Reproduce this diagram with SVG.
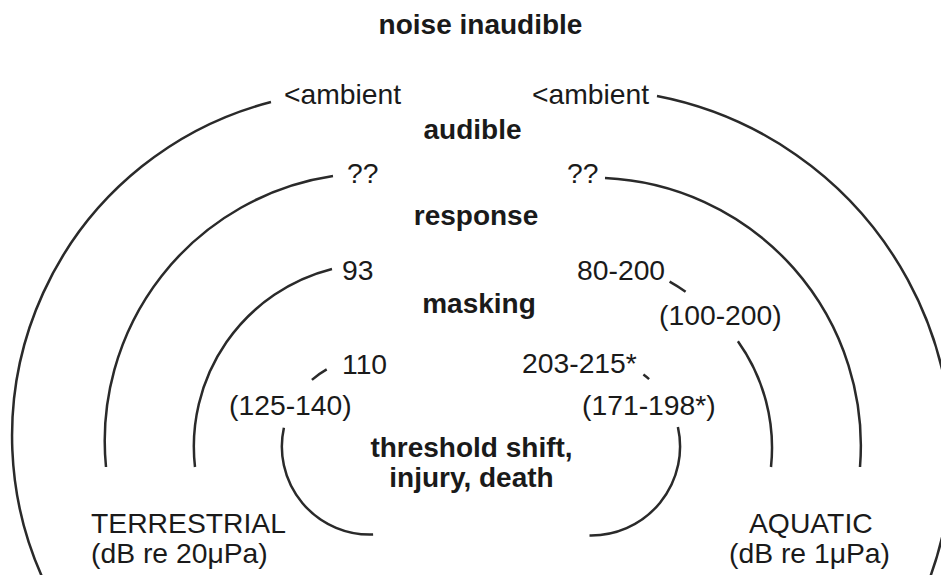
<svg xmlns="http://www.w3.org/2000/svg" width="941" height="575" viewBox="0 0 941 575">
  <style>
    .arc { fill: none; stroke: #2a2a2a; stroke-width: 2.5; stroke-linecap: butt; }
    .lbl { font-family: "Liberation Sans", Arial, sans-serif; font-size: 28.3px; fill: #1a1a1a; }
    .zone { font-family: "Liberation Sans", Arial, sans-serif; font-size: 28px; font-weight: bold; fill: #1a1a1a; text-anchor: middle; }
  </style>
  <rect x="0" y="0" width="941" height="575" fill="#ffffff"/>

  <g id="arcs">
    <!-- outer: ambient boundary -->
    <path class="arc" d="M271,102 A345,345 0 0 0 48.3,590"/>
    <path class="arc" d="M657,96 A364,364 0 0 1 925.2,590"/>
    <!-- second: response boundary -->
    <path class="arc" d="M333,176 A268,268 0 0 0 106,467"/>
    <path class="arc" d="M605,178 A268,268 0 0 1 860,467"/>
    <!-- third: masking boundary -->
    <path class="arc" d="M332,269 A183,183 0 0 0 195,467"/>
    <path class="arc" d="M669.6,281.7 A183,183 0 0 1 685.6,291.8"/>
    <path class="arc" d="M737.9,341.3 A183,183 0 0 1 771,467"/>
    <!-- inner: injury boundary -->
    <path class="arc" d="M311.9,379.9 A88,88 0 0 1 326.7,369.4"/>
    <path class="arc" d="M283.9,427.7 A88,88 0 0 0 373.1,534.5"/>
    <path class="arc" d="M643.4,374.5 A88,88 0 0 1 649.1,379.1"/>
    <path class="arc" d="M677.9,427 A89,89 0 0 1 589.5,535.5"/>
  </g>

  <g id="zone-noise-inaudible"><text class="zone" x="480.5" y="33.5">noise inaudible</text></g>
  <g id="zone-audible"><text class="zone" x="472.5" y="139">audible</text></g>
  <g id="zone-response"><text class="zone" x="476" y="225">response</text></g>
  <g id="zone-masking"><text class="zone" x="479" y="313">masking</text></g>
  <g id="zone-injury">
    <text class="zone" x="471.5" y="457">threshold shift,</text>
    <text class="zone" x="471.5" y="486.5">injury, death</text>
  </g>

  <g id="thresholds-terrestrial">
    <text class="lbl" x="284" y="104">&lt;ambient</text>
    <text class="lbl" x="347" y="183">??</text>
    <text class="lbl" x="342" y="280">93</text>
    <text class="lbl" x="342" y="374">110</text>
    <text class="lbl" x="229" y="415">(125-140)</text>
  </g>
  <g id="thresholds-aquatic">
    <text class="lbl" x="532" y="103.5">&lt;ambient</text>
    <text class="lbl" x="567" y="183">??</text>
    <text class="lbl" x="577" y="280">80-200</text>
    <text class="lbl" x="659" y="325">(100-200)</text>
    <text class="lbl" x="522" y="373">203-215*</text>
    <text class="lbl" x="582" y="415">(171-198*)</text>
  </g>

  <g id="label-terrestrial">
    <text class="lbl" x="91" y="533">TERRESTRIAL</text>
    <text class="lbl" x="91" y="563">(dB re 20μPa)</text>
  </g>
  <g id="label-aquatic">
    <text class="lbl" x="749" y="533">AQUATIC</text>
    <text class="lbl" x="729" y="563">(dB re 1μPa)</text>
  </g>
</svg>
